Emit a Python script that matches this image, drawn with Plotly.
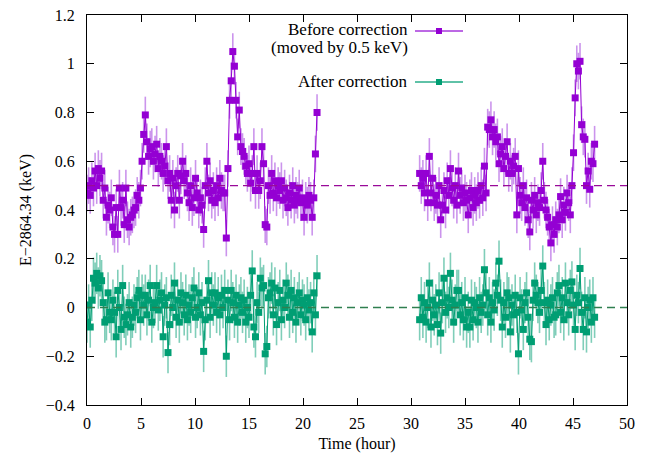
import numpy as np
import plotly.graph_objects as go

# ---- data ----
STEP = 0.15
T1_START = 0.0
T2_START = 30.8

before_1 = [
    0.47, 0.50, 0.46, 0.52, 0.49, 0.56, 0.50, 0.57, 0.53, 0.56,
    0.44, 0.49, 0.37, 0.42, 0.40, 0.45, 0.33, 0.30, 0.41, 0.30,
    0.49, 0.41, 0.44, 0.34, 0.49, 0.36, 0.33, 0.37, 0.38, 0.40,
    0.41, 0.46, 0.44, 0.49, 0.60, 0.71, 0.79, 0.68, 0.62, 0.65,
    0.66, 0.60, 0.63, 0.67, 0.57, 0.62, 0.60, 0.55, 0.58, 0.66,
    0.52, 0.55, 0.44, 0.53, 0.40, 0.50, 0.55, 0.44, 0.54, 0.60,
    0.52, 0.55, 0.47, 0.43, 0.50, 0.41, 0.45, 0.53, 0.47, 0.40,
    0.45, 0.42, 0.32, 0.50, 0.60, 0.47, 0.52, 0.44, 0.48, 0.43,
    0.50, 0.45, 0.53, 0.48, 0.47, 0.47, 0.285, 0.57, 0.85, 0.93,
    1.05, 0.99, 0.85, 0.70, 0.81, 0.66, 0.64, 0.62, 0.58, 0.55,
    0.59, 0.51, 0.55, 0.66, 0.48, 0.55, 0.48, 0.52, 0.66, 0.59,
    0.34, 0.33, 0.50, 0.46, 0.55, 0.47, 0.52, 0.45, 0.50, 0.48,
    0.52, 0.44, 0.49, 0.45, 0.41, 0.47, 0.44, 0.50, 0.42, 0.46,
    0.44, 0.49, 0.43, 0.45, 0.37, 0.44, 0.42, 0.46, 0.44, 0.37,
    0.45, 0.63, 0.80,
]
before_2 = [
    0.55, 0.50, 0.53, 0.47, 0.55, 0.43, 0.62, 0.47, 0.53, 0.43,
    0.46, 0.42, 0.50, 0.36, 0.42, 0.48, 0.40, 0.52, 0.46, 0.57,
    0.49, 0.44, 0.50, 0.42, 0.56, 0.46, 0.49, 0.43, 0.47, 0.44,
    0.38, 0.45, 0.48, 0.41, 0.46, 0.43, 0.48, 0.44, 0.50, 0.45,
    0.58, 0.47, 0.74, 0.73, 0.77, 0.70, 0.73, 0.68, 0.70, 0.59,
    0.63, 0.66, 0.57, 0.62, 0.68, 0.55, 0.60, 0.55, 0.58, 0.62,
    0.38, 0.57, 0.46, 0.43, 0.50, 0.41, 0.45, 0.36, 0.31, 0.44,
    0.40, 0.46, 0.38, 0.43, 0.41, 0.48, 0.60, 0.44, 0.40, 0.37,
    0.33, 0.265, 0.34, 0.30, 0.36, 0.33, 0.38, 0.455, 0.36, 0.42,
    0.39, 0.47, 0.43, 0.38, 0.50, 0.635, 0.86, 1.00, 0.97, 1.01,
    0.75, 0.70, 0.69, 0.50, 0.56, 0.485, 0.60, 0.59, 0.67,
]
after_1 = [
    -0.06, 0.01, -0.08, 0.03, 0.12, 0.10, 0.14, 0.08, 0.13, 0.11,
    0.02, -0.06, -0.05, 0.06, -0.02, -0.05, 0.03, -0.02, -0.12, 0.07,
    0.00, -0.09, 0.09, -0.04, -0.07, -0.03, 0.02, -0.08, -0.04, 0.01,
    -0.02, 0.04, 0.07, -0.05, 0.05, 0.01, 0.05, -0.03, 0.03, 0.09,
    -0.06, 0.00, 0.02, 0.09, -0.01, 0.03, 0.06, -0.12, 0.01, 0.04,
    -0.185, -0.07, 0.05, 0.00, 0.10, -0.04, 0.03, -0.06, 0.06, 0.02,
    -0.03, 0.05, -0.05, 0.01, -0.02, 0.04, 0.08, -0.04, 0.00, 0.06,
    -0.03, 0.02, -0.18, -0.05, 0.03, 0.11, -0.04, 0.06, 0.01, 0.06,
    -0.02, 0.04, -0.03, 0.05, 0.00, 0.07, -0.20, 0.03, -0.05, 0.07,
    0.02, -0.04, 0.05, -0.06, 0.01, 0.04, -0.02, 0.03, -0.06, 0.00,
    -0.04, 0.05, 0.15, -0.08, -0.12, 0.02, -0.02, 0.12, 0.08, 0.09,
    -0.19, -0.16, 0.04, 0.06, 0.10, -0.03, 0.08, -0.07, 0.02, 0.07,
    -0.05, 0.03, 0.00, 0.10, 0.05, -0.04, 0.07, -0.02, 0.04, -0.06,
    0.02, 0.06, -0.03, 0.03, 0.01, -0.05, 0.04, -0.01, 0.02, -0.10,
    0.06, -0.03, 0.13,
]
after_2 = [
    -0.05, 0.04, -0.04, 0.02, -0.06, 0.00, 0.10, -0.08, 0.03, -0.03,
    0.01, -0.07, 0.06, -0.105, 0.02, 0.12, -0.02, 0.04, 0.00, 0.14,
    0.03, -0.06, 0.01, 0.07, 0.07, -0.03, 0.02, -0.05, 0.04, -0.08,
    -0.02, -0.08, 0.03, -0.05, 0.02, 0.00, -0.06, 0.04, -0.02, 0.01,
    0.155, 0.06, -0.03, 0.04, -0.06, 0.02, -0.01, 0.10, 0.05, 0.19,
    0.03, -0.08, 0.02, -0.04, 0.06, 0.04, -0.10, 0.01, -0.03, 0.05,
    -0.02, -0.19, 0.04, -0.01, -0.09, 0.02, 0.06, -0.04, -0.13, -0.14,
    0.03, 0.10, 0.05, 0.02, -0.02, 0.07, 0.17, 0.02, -0.07, 0.03,
    -0.05, 0.01, 0.04, -0.04, -0.03, 0.06, 0.09, -0.02, 0.04, -0.05,
    0.10, 0.02, -0.03, 0.07, 0.105, 0.01, -0.09, 0.05, 0.02, 0.16,
    -0.02, -0.09, 0.04, -0.10, 0.00, 0.03, -0.06, 0.04, -0.04,
]
ERR_BEFORE = 0.075
ERR_AFTER = 0.085
REF_LEVELS = [0.5, 0.0]

X_TICKS = [0, 5, 10, 15, 20, 25, 30, 35, 40, 45, 50]
Y_TICKS = [-0.4, -0.2, 0, 0.2, 0.4, 0.6, 0.8, 1.0, 1.2]

t1 = list(np.round(T1_START + STEP * np.arange(len(before_1)), 3))
t2 = list(np.round(T2_START + STEP * np.arange(len(before_2)), 3))

x_all = t1 + [None] + t2
before_all = before_1 + [None] + before_2
after_all = after_1 + [None] + after_2

PURPLE = "#9400D3"
PURPLE_ERR = "rgba(160, 60, 220, 0.55)"
GREEN = "#009E73"
GREEN_ERR = "rgba(0, 158, 115, 0.5)"
FONT = "Liberation Serif, Times New Roman, serif"

fig = go.Figure()

fig.add_trace(go.Scatter(
    x=x_all, y=before_all, mode="lines+markers",
    line=dict(color=PURPLE, width=1),
    marker=dict(symbol="square", size=7, color=PURPLE),
    error_y=dict(type="constant", value=ERR_BEFORE, color=PURPLE_ERR,
                 thickness=1.6, width=0),
    connectgaps=False, showlegend=False, hoverinfo="skip",
))
fig.add_trace(go.Scatter(
    x=x_all, y=after_all, mode="lines+markers",
    line=dict(color=GREEN, width=1),
    marker=dict(symbol="square", size=7, color=GREEN),
    error_y=dict(type="constant", value=ERR_AFTER, color=GREEN_ERR,
                 thickness=1.6, width=0),
    connectgaps=False, showlegend=False, hoverinfo="skip",
))

ref_colors = ["#990A99", "#2F7F4F"]
for lvl, col in zip(REF_LEVELS, ref_colors):
    fig.add_shape(type="line", xref="paper", x0=0, x1=1, yref="y", y0=lvl, y1=lvl,
                  line=dict(color=col, width=1.3, dash="8px,5px"), layer="above")

# ---- manual legend (text left of sample, gnuplot style) ----
# page pixel -> paper coords; plot area spans px 87..627 (x) and 15..405 (y)
def px2paper_x(px):
    return (px - 87) / 540.0

def py2paper_y(py):
    return (405 - py) / 390.0

legend_items = [
    (["Before correction", "(moved by 0.5 keV)"], [30, 47], 31, PURPLE, PURPLE_ERR),
    (["After correction"], [82], 82, GREEN, GREEN_ERR),
]
for texts, tys, ly, col, lcol in legend_items:
    for txt, ty in zip(texts, tys):
        fig.add_annotation(text=txt, xref="paper", yref="paper",
                           x=px2paper_x(409), y=py2paper_y(ty),
                           xanchor="right", yanchor="middle", showarrow=False,
                           borderpad=0,
                           font=dict(family=FONT, size=17, color="black"))
    fig.add_shape(type="line", xref="paper", yref="paper",
                  x0=px2paper_x(415), x1=px2paper_x(463),
                  y0=py2paper_y(ly), y1=py2paper_y(ly),
                  line=dict(color=lcol, width=1.6))
    fig.add_shape(type="line", xref="paper", yref="paper",
                  x0=px2paper_x(415), x1=px2paper_x(463),
                  y0=py2paper_y(ly), y1=py2paper_y(ly),
                  line=dict(color=col, width=0.8))
    fig.add_shape(type="rect", xref="paper", yref="paper",
                  x0=px2paper_x(436), x1=px2paper_x(442),
                  y0=py2paper_y(ly + 3), y1=py2paper_y(ly - 3),
                  fillcolor=col, line=dict(width=0))

axis_common = dict(
    showline=True, linecolor="black", linewidth=1, mirror="ticks",
    ticks="inside", ticklen=7, tickwidth=1, tickcolor="black",
    showgrid=False, zeroline=False, automargin=False,
    tickfont=dict(family=FONT, size=16, color="black"),
)

fig.update_layout(
    width=646, height=459,
    margin=dict(l=87, r=19, t=15, b=54, autoexpand=False),
    paper_bgcolor="white", plot_bgcolor="white",
    font=dict(family=FONT, size=16, color="black"),
    xaxis=dict(range=[0, 50], tickvals=X_TICKS,
               title=dict(text="Time (hour)", font=dict(family=FONT, size=16), standoff=6),
               ticklabelstandoff=4, **axis_common),
    yaxis=dict(range=[-0.4, 1.2], tickvals=Y_TICKS,
               ticktext=[("\u2212" + f"{abs(v):g}") if v < 0 else f"{v:g}" for v in Y_TICKS],
               title=dict(text="E\u22122864.34 (keV)", font=dict(family=FONT, size=16), standoff=10),
               ticklabelstandoff=8, **axis_common),
)

fig.write_html("out.html", config={"displayModeBar": False})

# remove the browser's default 8px body margin so the figure sits at the page origin
with open("out.html", "r", encoding="utf-8") as f:
    html = f.read()
html = html.replace("<body>", '<body style="margin:0;padding:0;">', 1)
with open("out.html", "w", encoding="utf-8") as f:
    f.write(html)
